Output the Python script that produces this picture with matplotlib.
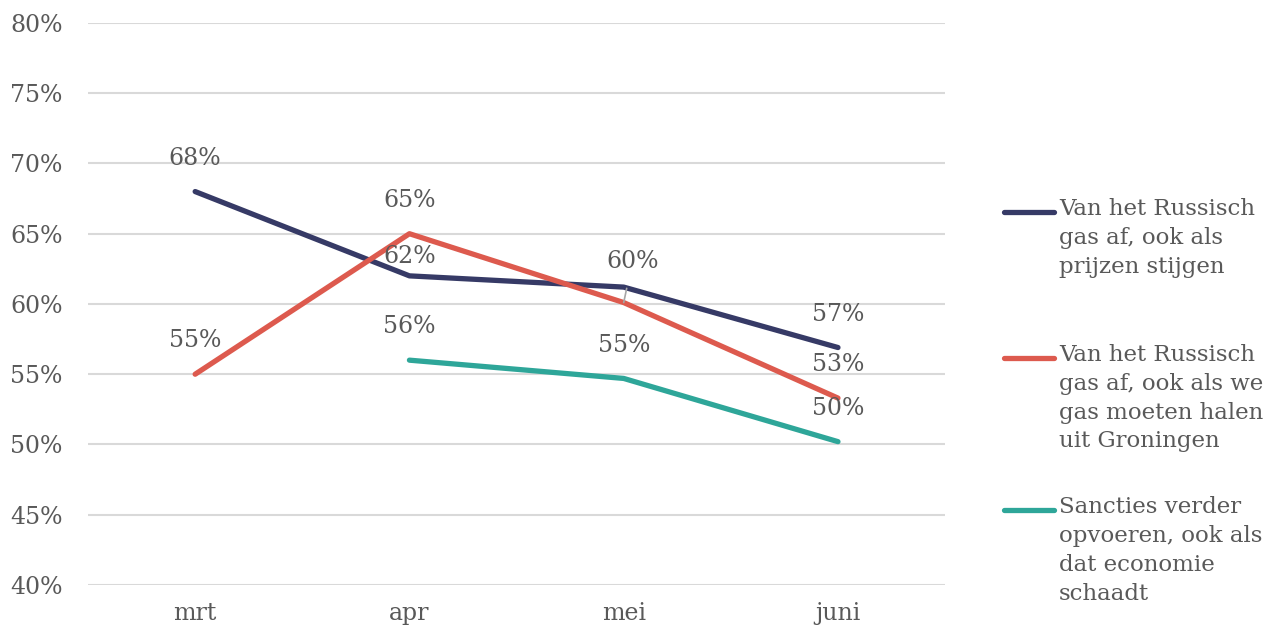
import matplotlib.pyplot as plt
from matplotlib.lines import Line2D

months = ["mrt", "apr", "mei", "juni"]
gas_prijzen = [68.0, 62.0, 61.2, 56.9]
gas_groningen = [55.0, 65.0, 60.1, 53.3]
sancties = [None, 56.0, 54.7, 50.2]

series_labels = [
    "Van het Russisch\ngas af, ook als\nprijzen stijgen",
    "Van het Russisch\ngas af, ook als we\ngas moeten halen\nuit Groningen",
    "Sancties verder\nopvoeren, ook als\ndat economie\nschaadt",
]
colors = ["#363a66", "#dd5a4e", "#2ea699"]

# data labels: (series, index, text, offset in points)
point_labels = [
    (0, 0, "68%", 24), (0, 1, "62%", 14), (0, 3, "57%", 24),
    (1, 0, "55%", 24), (1, 1, "65%", 24), (1, 3, "53%", 24),
    (2, 1, "56%", 24), (2, 2, "55%", 24), (2, 3, "50%", 24),
]

txt = "#595959"
plt.rcParams["font.family"] = "DejaVu Serif"

fig = plt.figure(figsize=(12.85, 6.29), dpi=100)
ax = fig.add_axes([0.0685, 0.07, 0.667, 0.8935])

all_series = [gas_prijzen, gas_groningen, sancties]
x = list(range(len(months)))
for vals, c in zip(all_series, colors):
    xs = [i for i, v in zip(x, vals) if v is not None]
    ys = [v for v in vals if v is not None]
    ax.plot(xs, ys, color=c, lw=3.8, solid_capstyle="round", zorder=3)

for s, i, t, off in point_labels:
    ax.annotate(t, (i, all_series[s][i]), xytext=(0, off), textcoords="offset points",
                ha="center", va="center", fontsize=17, color=txt, zorder=4)

# red "60%" label at mei with leader line
ax.annotate("60%", (2, gas_groningen[2]), xytext=(2 + 0.04, 63.0),
            ha="center", va="center", fontsize=17, color=txt, zorder=4,
            arrowprops=dict(arrowstyle="-", color="#a6a6a6", lw=1.2,
                            shrinkA=9, shrinkB=0))

ax.set_xlim(-0.5, 3.5)
ax.set_ylim(40, 80)
ax.set_yticks(range(40, 81, 5))
ax.set_yticklabels([f"{v}%" for v in range(40, 81, 5)], ha="left")
ax.set_xticks(x)
ax.set_xticklabels(months)
ax.tick_params(length=0, labelsize=17, labelcolor=txt)
ax.tick_params(axis="y", pad=56)
ax.tick_params(axis="x", pad=12)
ax.grid(axis="y", color="#d9d9d9", lw=1.5)
ax.set_axisbelow(True)
for sp in ax.spines.values():
    sp.set_visible(False)

# legend on the right
legend_y = [0.663, 0.431, 0.189]
for lab, c, yy in zip(series_labels, colors, legend_y):
    fig.add_artist(Line2D([0.781, 0.820], [yy, yy], transform=fig.transFigure,
                          color=c, lw=3.8, solid_capstyle="round"))
    fig.text(0.824, yy + 0.022, lab, ha="left", va="top", fontsize=16.5,
             color=txt, linespacing=1.4)

fig.savefig("out.png", dpi=100)
